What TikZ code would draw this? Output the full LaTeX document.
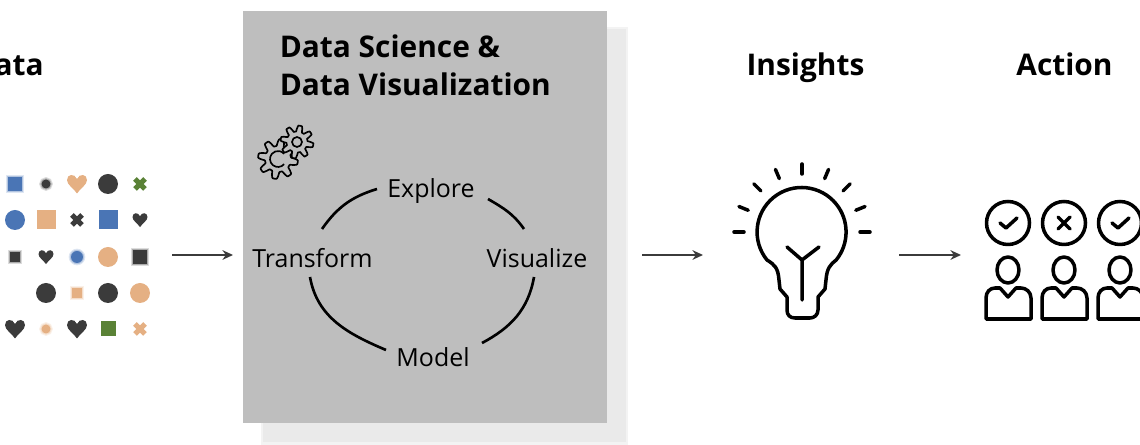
\documentclass[tikz,border=0pt]{standalone}
\usepackage{fontspec}
\setmainfont{Open Sans}
\usepackage{xcolor}
\usetikzlibrary{arrows.meta}
\definecolor{markblue}{HTML}{4A75B5}
\definecolor{marktan}{HTML}{E5B083}
\definecolor{markdark}{HTML}{3B3B3B}
\definecolor{markgreen}{HTML}{5A8236}
\definecolor{panelgray}{HTML}{BEBEBE}
\definecolor{shadowgray}{HTML}{EAEAEA}
\tikzset{
  flowarrow/.style={draw=markdark, line width=1.1pt, -{Stealth[length=6pt,width=5.5pt]}},
  cyclearc/.style={draw=black, line width=1.5pt},
  cyclelabel/.style={font=\fontsize{14.2}{16}\selectfont, text=black, inner sep=0pt, anchor=base},
  headlabel/.style={font=\fontsize{17}{20}\selectfont\bfseries, text=black, inner sep=0pt},
  iconline/.style={draw=black, line width=2pt, line cap=round, line join=round},
  gearline/.style={draw=black, line width=0.95pt, line join=round},
  soft/.style={preaction={draw=#1, draw opacity=0.18, line width=2.6pt},
    preaction={draw=#1, draw opacity=0.3, line width=1.3pt}, fill=#1},
  heartmark/.pic={\path[pic actions] (0,9.5) .. controls (-3,4.5) and (-10,1) .. (-10,-4)
    .. controls (-10,-10) and (-2.5,-11) .. (0,-5) .. controls (2.5,-11) and (10,-10) .. (10,-4)
    .. controls (10,1) and (3,4.5) .. (0,9.5) -- cycle;},
  crossmark/.pic={\path[pic actions] (-5,-5) -- (5,5) (-5,5) -- (5,-5);}
}
\begin{document}
\begin{tikzpicture}[x=0.02cm, y=-0.02cm]
\useasboundingbox (0,0) rectangle (1140,445);
\clip (0,0) rectangle (1140,445);
% panel and its shadow
\fill[shadowgray!60] (261,27) rectangle (628,445);
\fill[shadowgray] (263,29) rectangle (626,442);
\fill[panelgray] (243,11) rectangle (607,423);
% headings
\node[headlabel, anchor=base] (datatitle) at (8,76) {Data};
\node[headlabel, anchor=base] (insightstitle) at (805.5,76) {Insights};
\node[headlabel, anchor=base] (actiontitle) at (1064.5,76) {Action};
\node[headlabel, anchor=base west] (sciencetitle) at (279.5,58) {Data Science \&};
\node[headlabel, anchor=base west] (vistitle) at (279.5,96) {Data Visualization};
% data marks: squares
\foreach \x/\y/\s/\c in {108/220/9.5/markblue,46/220/9.5/marktan,108/329/7.5/markgreen}
  \fill[\c] (\x-\s,\y-\s) rectangle (\x+\s,\y+\s);
\foreach \x/\y/\s/\c in {15/184/7/markblue,15/257/5/markdark,77/293/5/marktan,140/257/7/markdark}
  \path[soft=\c] (\x-\s,\y-\s) rectangle (\x+\s,\y+\s);
% data marks: circles
\foreach \x/\y/\r/\c in {108/184/10/markdark,15/220/10/markblue,108/257/10/marktan,46/293/10/markdark,108/293/10/markdark,140/293/10/marktan}
  \fill[\c] (\x,\y) circle[radius=\r];
\foreach \x/\y/\r/\c in {46/184/4.5/markdark,77/257/6/markblue,46/329/4.5/marktan}
  \path[soft=\c] (\x,\y) circle[radius=\r];
% data marks: hearts and crosses
\foreach \x/\y/\s/\c in {77/184/1/marktan,15/329/1/markdark,77/329/1/markdark}
  \pic[fill=\c, scale=\s] at (\x,\y) {heartmark};
\foreach \x/\y/\s/\c in {140/220/0.75/markdark,46/257/0.75/markdark}
  \pic[soft=\c, scale=\s] at (\x,\y) {heartmark};
\foreach \x/\y/\c in {140/184/markgreen,77/220/markdark,140/329/marktan}
  \pic[draw=\c, line width=2.9pt] at (\x,\y) {crossmark};
% gears
\draw[gearline] plot[domain=0:360, samples=145, smooth] ({278+(16.5+3.5*max(-1,min(1,1.6*sin(8*\x+10))))*cos(\x)},{159+(16.5+3.5*max(-1,min(1,1.6*sin(8*\x+10))))*sin(\x)});
\draw[gearline] (278,159) ++(40:8) arc[start angle=40, end angle=320, radius=8];
\draw[gearline, fill=panelgray] plot[domain=0:360, samples=145, smooth] ({297+(13.5+3*max(-1,min(1,1.6*sin(8*\x))))*cos(\x)},{142+(13.5+3*max(-1,min(1,1.6*sin(8*\x))))*sin(\x)});
\draw[gearline] (297,142) circle[radius=5];
% analysis cycle
\node[cyclelabel] (explore) at (431,198) {Explore};
\node[cyclelabel] (transform) at (312.5,268) {Transform};
\node[cyclelabel] (visualize) at (537,268) {Visualize};
\node[cyclelabel] (model) at (433,367) {Model};
\draw[cyclearc] ([shift={(-54,-9)}]explore.base) to[out=197, in=55] ([shift={(9.5,-39)}]transform.base);
\draw[cyclearc] ([shift={(57,1)}]explore.base) to[out=-30, in=125] ([shift={(-13,-39)}]visualize.base);
\draw[cyclearc] ([shift={(-2.5,9)}]transform.base) to[out=-80, in=157] ([shift={(-47,-17)}]model.base);
\draw[cyclearc] ([shift={(-3,9)}]visualize.base) to[out=-100, in=28] ([shift={(49,-24)}]model.base);
% bulb
\draw[iconline] (767,260) arc[start angle=141, end angle=399, radius=44.5]
  .. controls (830,265) and (827,268) .. (826,280) -- (825,289) -- (818,297) -- (818,310)
  .. controls (818,315) and (814,318) .. (810,318) -- (795,318)
  .. controls (790,318) and (787,315) .. (787,310) -- (787,297) -- (780,289) -- (779,280)
  .. controls (778,268) and (775,265) .. (767,260) -- cycle;
\draw[iconline] (802,300) -- (802,260) (787,247) -- (802,260) -- (819,247);
\foreach \a in {180,202,225,247,270,293,315,338,360}
  \draw[iconline] (802,232) ++(\a:58) -- ++(\a:10);
% people
\foreach \x in {1008,1064,1120} {
  \draw[iconline] (\x,223) circle[radius=21.5];
  \draw[iconline] (\x,270) ellipse[x radius=11, y radius=13];
  \draw[iconline] (\x-22,319) -- (\x-22,298) .. controls (\x-22,292) and (\x-18,288) .. (\x-13,288)
    -- (\x-8,288) -- (\x,297) -- (\x+8,288) -- (\x+13,288)
    .. controls (\x+18,288) and (\x+23,292) .. (\x+23,298) -- (\x+23,319) -- cycle;
}
\foreach \x in {1008,1120}
  \draw[iconline] (\x-8,223) -- (\x-2,228) -- (\x+9,218);
\draw[iconline] (1058,217) -- (1070,229) (1058,229) -- (1070,217);
% flow arrows
\coordinate (datastart) at (172,255);
\coordinate (panelin) at (233,255);
\coordinate (panelout) at (642,255);
\coordinate (bulbin) at (703,255);
\coordinate (bulbout) at (899,255);
\coordinate (crowdin) at (961,255);
\draw[flowarrow] (datastart) -- (panelin);
\draw[flowarrow] (panelout) -- (bulbin);
\draw[flowarrow] (bulbout) -- (crowdin);
\end{tikzpicture}
\end{document}
